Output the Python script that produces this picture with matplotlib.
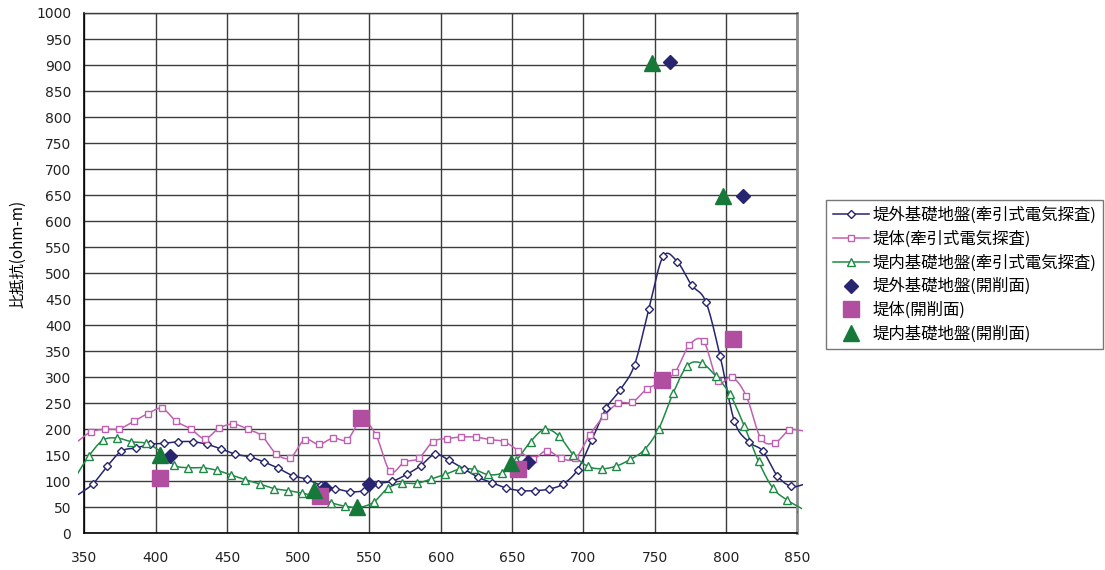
import numpy as np
import matplotlib
matplotlib.use("Agg")
import matplotlib.pyplot as plt
from matplotlib.patches import Rectangle

# ---- data -------------------------------------------------------------
# Towed resistivity survey: one reading every 10 m along each line
# (first and last readings lie just outside the displayed range)
outer_start, body_start, inner_start = 346, 344.5, 343
outer_survey = [75, 95, 129, 158, 164, 171, 173, 176, 176, 171, 162, 152, 147, 137,
                125, 111, 104, 92, 86, 80, 82, 95, 100, 113, 130, 152, 140, 124,
                108, 97, 87, 82, 82, 85, 95, 122, 179, 240, 276, 324, 431, 532,
                522, 477, 445, 341, 216, 176, 158, 111, 90, 95]
body_survey = [175, 195, 200, 201, 215, 230, 240, 215, 201, 182, 202, 210, 200, 187,
               153, 145, 180, 171, 183, 180, 218, 189, 119, 137, 144, 176, 182, 185,
               185, 180, 176, 159, 143, 159, 144, 144, 189, 225, 250, 252, 277, 290,
               310, 362, 369, 292, 300, 263, 183, 174, 198, 197]
inner_survey = [105, 148, 179, 183, 176, 173, 158, 131, 126, 126, 121, 112, 103, 95,
                86, 82, 77, 70, 59, 52, 50, 60, 87, 96, 96, 104, 113, 123, 123, 113,
                116, 140, 176, 200, 187, 151, 129, 124, 129, 142, 161, 201, 269, 322,
                327, 302, 267, 206, 138, 87, 64, 48]

# Trench (開削面) measurements
outer_trench_x = [410, 519, 550, 661, 761, 812]
outer_trench_y = [149, 87, 95, 137, 905, 648]
body_trench_x = [403, 515, 544, 654, 755, 805]
body_trench_y = [106, 72, 222, 123, 295, 374]
inner_trench_x = [403, 511, 541, 649, 748, 798]
inner_trench_y = [150, 84, 51, 135, 903, 648]

labels = ["堤外基礎地盤(牽引式電気探査)", "堤体(牽引式電気探査)", "堤内基礎地盤(牽引式電気探査)",
          "堤外基礎地盤(開削面)", "堤体(開削面)", "堤内基礎地盤(開削面)"]
y_label = "比抵抗(ohm-m)"
x_ticks = list(range(350, 851, 50))
y_ticks = list(range(0, 1001, 50))

# ---- style ------------------------------------------------------------
BLUE = "#27256f"
PINK = "#c060b0"
PINK_FILL = "#b24e9f"
GREEN = "#1f8a45"
GREEN_FILL = "#16793a"

num_family = ["DejaVu Sans"]
jp_family = ["Noto Sans CJK JP", "DejaVu Sans"]
plt.rcParams["font.family"] = jp_family


def smooth(x, y, n=12):
    """Catmull-Rom curve through the readings."""
    pts = np.column_stack([x, y]).astype(float)
    P = np.vstack([2 * pts[0] - pts[1], pts, 2 * pts[-1] - pts[-2]])
    t = np.linspace(0, 1, n, endpoint=False)[:, None]
    segs = []
    for i in range(1, len(P) - 2):
        p0, p1, p2, p3 = P[i - 1], P[i], P[i + 1], P[i + 2]
        segs.append(0.5 * (2 * p1 + (p2 - p0) * t
                           + (2 * p0 - 5 * p1 + 4 * p2 - p3) * t ** 2
                           + (-p0 + 3 * p1 - 3 * p2 + p3) * t ** 3))
    segs.append(pts[-1:])
    c = np.vstack(segs)
    return c[:, 0], c[:, 1]


fig = plt.figure(figsize=(11.05, 5.70), dpi=100)
ax = fig.add_axes([0.0764, 0.0644, 0.6449, 0.9128])
ax.set_xlim(350, 850)
ax.set_ylim(0, 1000)
ax.set_xticks(x_ticks)
ax.set_yticks(y_ticks)
ax.grid(True, color="#3c3c3c", lw=1.0)
ax.set_axisbelow(True)
ax.tick_params(length=0, labelsize=10, labelcolor="#222222")
ax.tick_params(axis="y", pad=9.5)
ax.tick_params(axis="x", pad=13)
for lab in ax.get_xticklabels() + ax.get_yticklabels():
    lab.set_family(num_family)
for side in ("left", "bottom"):
    ax.spines[side].set_color("black")
    ax.spines[side].set_linewidth(1.2)
ax.spines["top"].set_color("#3c3c3c")
ax.spines["top"].set_linewidth(1.0)
ax.spines["right"].set_color("#8c8c8c")
ax.spines["right"].set_linewidth(2.0)
ax.set_ylabel(y_label, fontsize=11)
ax.yaxis.set_label_coords(-0.081, 0.536)

# lines may run slightly past the plot area edges
clip = Rectangle((-0.009, 0), 1.018, 1, transform=ax.transAxes, visible=False)
ax.add_patch(clip)

series = [
    (outer_start, outer_survey, BLUE, "D", 4.0),
    (body_start, body_survey, PINK, "s", 5.0),
    (inner_start, inner_survey, GREEN, "^", 6.0),
]
handles = []
for start, vals, col, mk, ms in series:
    xs = start + 10 * np.arange(len(vals))
    sx, sy = smooth(xs, vals)
    ln, = ax.plot(sx, sy, color=col, lw=1.1, zorder=3)
    ln.set_clip_path(clip)
    ax.plot(xs, vals, ls="none", marker=mk, ms=ms, mfc="white", mec=col,
            mew=1.0, zorder=4)
    handles.append(ax.plot([], [], color=col, lw=1.1, marker=mk, ms=ms,
                           mfc="white", mec=col, mew=1.0)[0])

h = ax.plot(outer_trench_x, outer_trench_y, ls="none", marker="D", ms=7.0,
            color=BLUE, zorder=5)[0]
handles.append(h)
h = ax.plot(body_trench_x, body_trench_y, ls="none", marker="s", ms=11.0,
            color=PINK_FILL, zorder=5)[0]
handles.append(h)
h = ax.plot(inner_trench_x, inner_trench_y, ls="none", marker="^", ms=11.0,
            color=GREEN_FILL, zorder=5)[0]
handles.append(h)

leg = fig.legend(handles, labels, loc="upper left", bbox_to_anchor=(0.7475, 0.6491),
                 borderaxespad=0, fontsize=11.8, frameon=True, fancybox=False,
                 edgecolor="#555555", handlelength=2.2, handletextpad=0.25,
                 labelspacing=0.4, borderpad=0.4, numpoints=1)
leg.get_frame().set_linewidth(1.0)

fig.savefig("out.png", dpi=100)
